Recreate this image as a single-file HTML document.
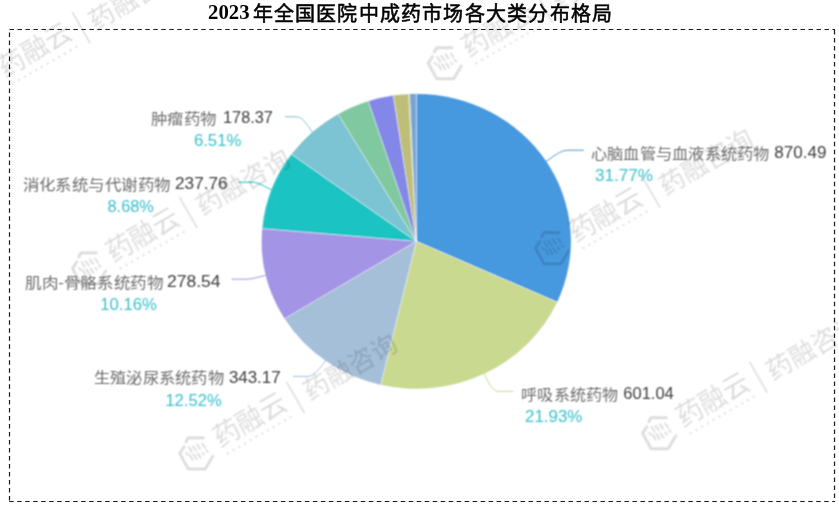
<!DOCTYPE html>
<html lang="zh-CN"><head><meta charset="utf-8"><style>
html,body{margin:0;padding:0;background:#fff;}
body{width:839px;height:507px;overflow:hidden;position:relative;font-family:"Liberation Sans",sans-serif;}
svg{position:absolute;left:0;top:0;}
</style></head><body>
<svg width="839" height="507" viewBox="0 0 839 507">
<defs><g id="wm">
<g transform="rotate(30)" fill="none" stroke="#000" stroke-linecap="round" stroke-linejoin="round">
<path d="M-10.8,-11.4 L-8.5,-15.5 L6.8,-15.5 M-12.6,-6.5 L-17,0 L-8.5,15.5 L8.5,15.5 L16.2,2.6" stroke-width="2.8"/>
<path d="M-7.9,-6.4 l2.9,4.9 M-4,-7.4 l3.2,4.4 M0.5,-8.9 l2.9,4.4 M5.4,-9.9 l2.9,4 M-10.4,-0.5 l1.4,2 M-6.9,1.5 l2.9,4.9 M-3,1 l3,4.9 M0.9,0 l3,4.4 M5.6,-0.8 l1.6,1.8 M9.5,-3.3 l1.6,1.8" stroke-width="1.9"/>
</g>
<text x="22.5" y="6.5" font-size="27" font-weight="300" fill="#000" font-family="Liberation Sans, sans-serif" textLength="80" lengthAdjust="spacingAndGlyphs">药融云</text>
<line x1="26" y1="15.5" x2="101" y2="15.5" stroke="#000" stroke-width="1.9" stroke-dasharray="2 4.6"/>
<line x1="113.5" y1="-17" x2="113.5" y2="19" stroke="#000" stroke-width="1.6"/>
<text x="124" y="11" font-size="25" font-weight="300" fill="#000" font-family="Liberation Sans, sans-serif" textLength="104" lengthAdjust="spacingAndGlyphs">药融咨询</text>
</g><filter id="bl" x="-5%" y="-5%" width="110%" height="110%"><feConvolveMatrix order="3" kernelMatrix="1 2 1 2 4 2 1 2 1" edgeMode="none"/></filter><filter id="bl2" x="-5%" y="-5%" width="110%" height="110%"><feConvolveMatrix order="3" kernelMatrix="1 2 1 2 4 2 1 2 1" edgeMode="none"/></filter></defs>
<g filter="url(#bl2)"><g stroke="#fff" stroke-width="0.7" stroke-opacity="0.5" stroke-linejoin="round">
<path d="M416.3,241.3L416.30,93.70A154.8,147.6 0 0 1 557.31,302.21Z" fill="#4699df"/>
<path d="M416.3,241.3L557.31,302.21A154.8,147.6 0 0 1 380.64,384.93Z" fill="#c9d98f"/>
<path d="M416.3,241.3L380.64,384.93A154.8,147.6 0 0 1 284.46,318.66Z" fill="#a5bfd9"/>
<path d="M416.3,241.3L284.46,318.66A154.8,147.6 0 0 1 262.08,228.52Z" fill="#a394e6"/>
<path d="M416.3,241.3L262.08,228.52A154.8,147.6 0 0 1 291.41,154.09Z" fill="#1cc3c3"/>
<path d="M416.3,241.3L291.41,154.09A154.8,147.6 0 0 1 338.09,113.93Z" fill="#7bc3d3"/>
<path d="M416.3,241.3L338.09,113.93A154.8,147.6 0 0 1 368.28,100.98Z" fill="#80c9a0"/>
<path d="M416.3,241.3L368.28,100.98A154.8,147.6 0 0 1 393.33,95.33Z" fill="#8388e8"/>
<path d="M416.3,241.3L393.33,95.33A154.8,147.6 0 0 1 408.62,93.88Z" fill="#bfbe79"/>
<path d="M416.3,241.3L408.62,93.88A154.8,147.6 0 0 1 409.79,93.83Z" fill="#a8c0a8"/>
<path d="M416.3,241.3L409.79,93.83A154.8,147.6 0 0 1 416.30,93.70Z" fill="#76a4cf"/>
</g>
<path d="M545.9,161.6C552.6,157.3 560,150.2 568,150.2L583.8,150.2" stroke="#4699df" stroke-width="1.0" fill="none"/>
<path d="M484.1,373.5C488.1,381.6 492,391.4 499,391.4L513.4,391.4" stroke="#c9d98f" stroke-width="1.0" fill="none"/>
<path d="M325.5,360.7C321.4,366.4 314,376.4 308,376.4L293.2,376.4" stroke="#a5bfd9" stroke-width="1.0" fill="none"/>
<path d="M265.7,275.3C257.9,277.1 252,279.2 245,279.2L231.6,279.2" stroke="#a394e6" stroke-width="1.0" fill="none"/>
<path d="M271.4,189.6C264.8,187.1 259,182.2 252,182.2L238.2,182.2" stroke="#1cc3c3" stroke-width="1.0" fill="none"/>
<path d="M312.4,132.2C308.4,127.1 303,116.8 297,116.8L284.8,116.8" stroke="#7bc3d3" stroke-width="1.0" fill="none"/></g>
<g opacity="0.14" filter="url(#bl)">
<use href="#wm" transform="translate(-17.7,83.4) rotate(-30)"/>
<use href="#wm" transform="translate(445.2,63.2) rotate(-30)"/>
<use href="#wm" transform="translate(89.5,268.4) rotate(-30)"/>
<use href="#wm" transform="translate(552.4,248.2) rotate(-30)"/>
<use href="#wm" transform="translate(196.7,453.4) rotate(-30)"/>
<use href="#wm" transform="translate(659.6,433.2) rotate(-30)"/>
</g>
<g fill="none" stroke="#1a1a1a" stroke-width="1.2" stroke-dasharray="4.5 3.49">
<path d="M9.5,29.5H835"/><path d="M9.2,501.5H835"/><path d="M9.5,500.5V29"/><path d="M834.5,29V502" stroke-dashoffset="-1"/>
</g>
<text y="18.5" fill="#000" font-family="Liberation Serif, serif"><tspan x="208" font-size="21" font-weight="bold" textLength="41.5" lengthAdjust="spacingAndGlyphs">2023</tspan></text><text x="252.5" y="21.1" font-size="20" font-weight="normal" stroke="#000" stroke-width="0.55" textLength="359.5" lengthAdjust="spacing" fill="#000" font-family="Liberation Serif, serif">年全国医院中成药市场各大类分布格局</text>
<g filter="url(#bl)">
<text x="150.8" y="123.7" font-size="15" fill="#6c6c6c" font-family="Liberation Sans, sans-serif" textLength="65.7" lengthAdjust="spacingAndGlyphs">肿瘤药物</text>
<text x="223.1" y="123.4" font-size="16.5" fill="#444" stroke="#444" stroke-width="0.05" font-family="Liberation Sans, sans-serif" textLength="49.6" lengthAdjust="spacingAndGlyphs">178.37</text>
<text x="193.89999999999998" y="146.3" font-size="16.5" fill="#40c2cd" stroke="#40c2cd" stroke-width="0.05" font-family="Liberation Sans, sans-serif" textLength="47.5" lengthAdjust="spacingAndGlyphs">6.51%</text>
<text x="22.5" y="189.7" font-size="15" fill="#6c6c6c" font-family="Liberation Sans, sans-serif" textLength="147.9" lengthAdjust="spacingAndGlyphs">消化系统与代谢药物</text>
<text x="175.0" y="189.39999999999998" font-size="16.5" fill="#444" stroke="#444" stroke-width="0.05" font-family="Liberation Sans, sans-serif" textLength="52.6" lengthAdjust="spacingAndGlyphs">237.76</text>
<text x="107.5" y="212.1" font-size="16.5" fill="#40c2cd" stroke="#40c2cd" stroke-width="0.05" font-family="Liberation Sans, sans-serif" textLength="46.4" lengthAdjust="spacingAndGlyphs">8.68%</text>
<text x="25.0" y="287.5" font-size="15" fill="#6c6c6c" font-family="Liberation Sans, sans-serif" textLength="138.3" lengthAdjust="spacingAndGlyphs">肌肉-骨骼系统药物</text>
<text x="167.0" y="287.2" font-size="16.5" fill="#444" stroke="#444" stroke-width="0.05" font-family="Liberation Sans, sans-serif" textLength="53.5" lengthAdjust="spacingAndGlyphs">278.54</text>
<text x="100.2" y="310.4" font-size="16.5" fill="#40c2cd" stroke="#40c2cd" stroke-width="0.05" font-family="Liberation Sans, sans-serif" textLength="56.6" lengthAdjust="spacingAndGlyphs">10.16%</text>
<text x="93.8" y="383.2" font-size="15" fill="#6c6c6c" font-family="Liberation Sans, sans-serif" textLength="130.2" lengthAdjust="spacingAndGlyphs">生殖泌尿系统药物</text>
<text x="228.89999999999998" y="382.9" font-size="16.5" fill="#444" stroke="#444" stroke-width="0.05" font-family="Liberation Sans, sans-serif" textLength="51.7" lengthAdjust="spacingAndGlyphs">343.17</text>
<text x="165.39999999999998" y="405.9" font-size="16.5" fill="#40c2cd" stroke="#40c2cd" stroke-width="0.05" font-family="Liberation Sans, sans-serif" textLength="56.3" lengthAdjust="spacingAndGlyphs">12.52%</text>
<text x="591.0" y="158.5" font-size="15" fill="#6c6c6c" font-family="Liberation Sans, sans-serif" textLength="178.5" lengthAdjust="spacingAndGlyphs">心脑血管与血液系统药物</text>
<text x="774.3000000000001" y="158.2" font-size="16.5" fill="#444" stroke="#444" stroke-width="0.05" font-family="Liberation Sans, sans-serif" textLength="52.1" lengthAdjust="spacingAndGlyphs">870.49</text>
<text x="594.9000000000001" y="181.4" font-size="16.5" fill="#40c2cd" stroke="#40c2cd" stroke-width="0.05" font-family="Liberation Sans, sans-serif" textLength="58.1" lengthAdjust="spacingAndGlyphs">31.77%</text>
<text x="521.4" y="399.6" font-size="15" fill="#6c6c6c" font-family="Liberation Sans, sans-serif" textLength="96.4" lengthAdjust="spacingAndGlyphs">呼吸系统药物</text>
<text x="623.3000000000001" y="399.3" font-size="16.5" fill="#444" stroke="#444" stroke-width="0.05" font-family="Liberation Sans, sans-serif" textLength="50.5" lengthAdjust="spacingAndGlyphs">601.04</text>
<text x="525.0" y="422.09999999999997" font-size="16.5" fill="#40c2cd" stroke="#40c2cd" stroke-width="0.05" font-family="Liberation Sans, sans-serif" textLength="57.4" lengthAdjust="spacingAndGlyphs">21.93%</text>
</g>
</svg>
</body></html>
